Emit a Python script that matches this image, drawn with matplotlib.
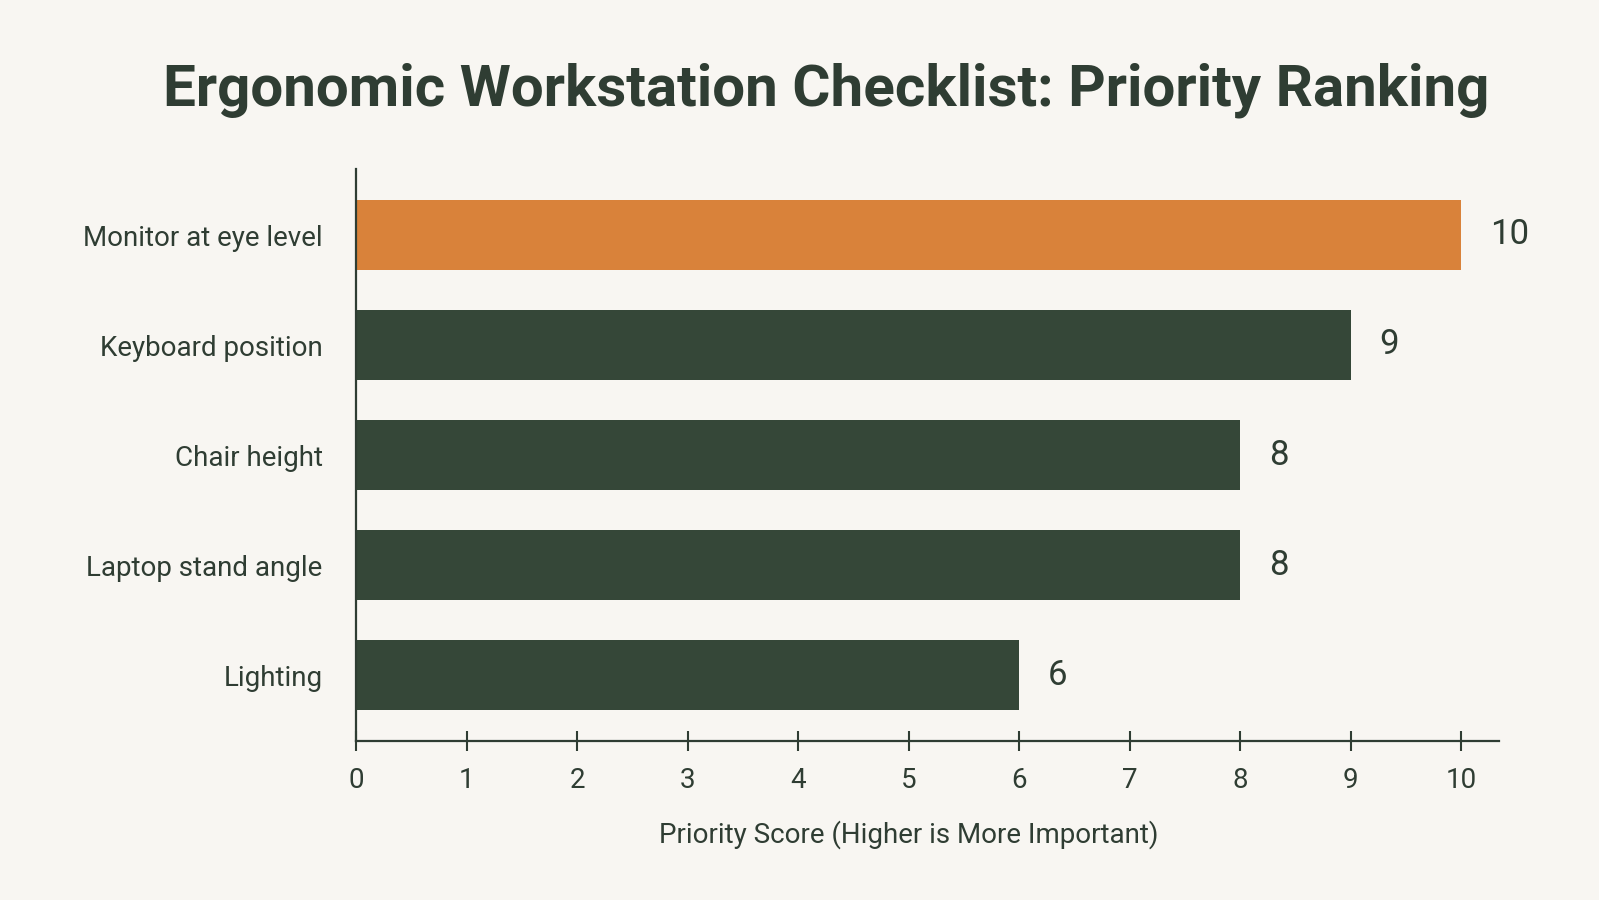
import numpy as np
import matplotlib.pyplot as plt

items = ['Monitor at eye level', 'Keyboard position', 'Chair height',
         'Laptop stand angle', 'Lighting']
scores = [10, 9, 8, 8, 6]
bar_colors = ['#D9823A', '#354738', '#354738', '#354738', '#354738']
ticks = list(range(0, 11))

bg = '#F8F6F2'
ink = '#2F3D33'
lab_font = 'Roboto'

fig = plt.figure(figsize=(15.99, 9.0), dpi=100, facecolor=bg)
ax = fig.add_axes([356 / 1599, 1 - 741 / 900, (1499 - 356) / 1599, (741 - 169) / 900])
ax.set_facecolor(bg)

y = np.arange(len(items))
ax.barh(y, scores, height=0.64, color=bar_colors)
ax.set_ylim(len(items) - 0.4, -0.6)
ax.set_xlim(0, 10.34)

for yi, s in zip(y, scores):
    ax.text(s + 0.26, yi, str(s), va='center', ha='left', fontsize=25,
            color=ink, family=lab_font)

ax.set_yticks(y)
ax.set_yticklabels(items, family=lab_font, fontsize=20, color=ink)
ax.tick_params(axis='y', length=0, pad=24)
ax.set_xticks(ticks)
ax.set_xticklabels([str(t) for t in ticks], family=lab_font, fontsize=20, color=ink)
ax.tick_params(axis='x', direction='inout', length=14, width=1.5, color=ink, pad=12)

for side in ['top', 'right']:
    ax.spines[side].set_visible(False)
for side in ['left', 'bottom']:
    ax.spines[side].set_color(ink)
    ax.spines[side].set_linewidth(1.6)

ax.set_xlabel('Priority Score (Higher is More Important)', family=lab_font,
              fontsize=20, color=ink)
ax.xaxis.set_label_coords(5 / 10.34, -0.138)

fig.text(0.517, 1 - 90 / 900, 'Ergonomic Workstation Checklist: Priority Ranking',
         ha='center', va='center', fontsize=42, fontweight='bold',
         color=ink, family='Roboto')

fig.savefig('out.png', dpi=100, facecolor=bg)
